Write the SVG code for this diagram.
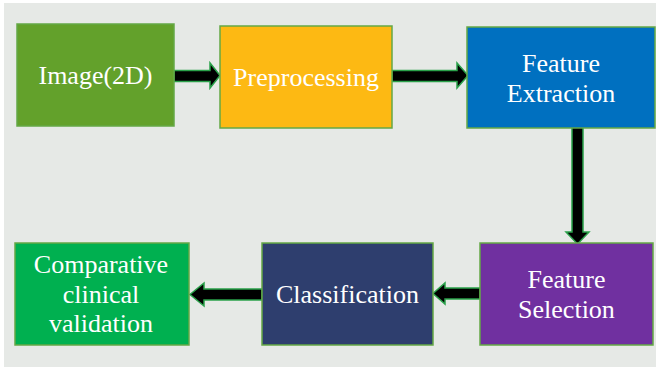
<svg xmlns="http://www.w3.org/2000/svg" width="657" height="367" viewBox="0 0 657 367">
<style>
.box{stroke:#64a846;stroke-width:1.5}
.lbl{font-family:"Liberation Serif","Times New Roman",serif;font-size:26px;fill:#ffffff;text-anchor:middle}
.arr{fill:#000000;stroke:#2aa14a;stroke-width:1.5;stroke-linejoin:miter}
</style>
<rect x="0" y="0" width="657" height="367" fill="#ffffff"/>
<rect x="4" y="3" width="652" height="364" fill="#e6e9e6"/>
<g id="connectors">
<polygon class="arr" points="174,70.5 210,70.5 210,63 220,75.5 210,88 210,81.5 174,81.5"/>
<polygon class="arr" points="392,70.5 457,70.5 457,63 468,75.5 457,88 457,81.5 392,81.5"/>
<polygon class="arr" points="572,127 583,127 583,232 589,232 577.5,244 566,232 572,232"/>
<polygon class="arr" points="480,288 445,288 445,283 433,293.5 445,304 445,299 480,299"/>
<polygon class="arr" points="262,289 204,289 204,283 190,294.5 204,306 204,300 262,300"/>
</g>
<g id="image2d">
<rect class="box" x="17" y="24" width="157" height="102" fill="#63a12b"/>
<text class="lbl" x="95.5" y="84">Image(2D)</text>
</g>
<g id="preprocessing">
<rect class="box" x="220" y="26" width="172" height="102" fill="#fdb913"/>
<text class="lbl" x="306" y="86">Preprocessing</text>
</g>
<g id="feature-extraction">
<rect class="box" x="467" y="27" width="188" height="101" fill="#0070c0"/>
<text class="lbl" x="561" y="72">Feature</text>
<text class="lbl" x="561" y="102">Extraction</text>
</g>
<g id="feature-selection">
<rect class="box" x="480" y="243" width="173" height="102" fill="#7030a0"/>
<text class="lbl" x="566.5" y="288">Feature</text>
<text class="lbl" x="566.5" y="318">Selection</text>
</g>
<g id="classification">
<rect class="box" x="262" y="243" width="171" height="102" fill="#2e3e6e"/>
<text class="lbl" x="347.5" y="303">Classification</text>
</g>
<g id="comparative-validation">
<rect class="box" x="15" y="243" width="174" height="102" fill="#00b050"/>
<text class="lbl" x="101" y="273">Comparative</text>
<text class="lbl" x="101" y="303">clinical</text>
<text class="lbl" x="101" y="332">validation</text>
</g>
</svg>
